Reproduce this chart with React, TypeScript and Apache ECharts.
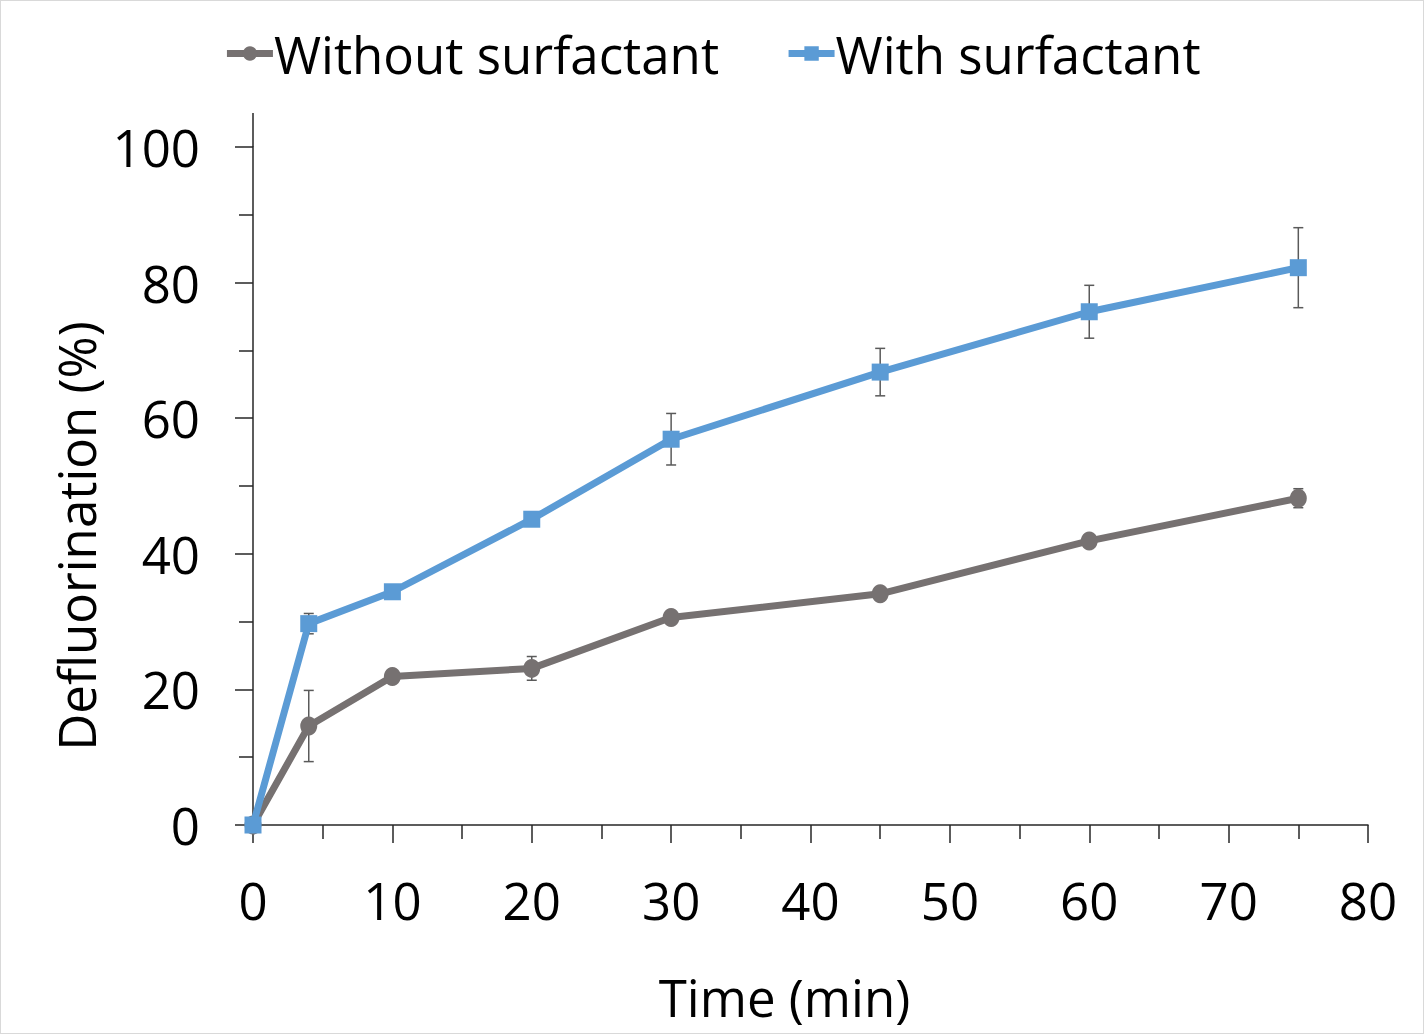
import React, { useEffect, useRef } from "react";
import * as echarts from "echarts";

const timeMin = [0, 4, 10, 20, 30, 45, 60, 75];
const withoutSurf = [0, 14.6, 21.9, 23.1, 30.6, 34.1, 41.9, 48.2];
const withoutErr = [0, 5.25, 0.8, 1.75, 0.6, 0.6, 0.6, 1.4];
const withSurf = [0, 29.7, 34.4, 45.1, 56.9, 66.8, 75.7, 82.2];
const withErr = [0, 1.5, 0.8, 0.8, 3.8, 3.5, 3.9, 5.9];
const seriesNames = ["Without surfactant", "With surfactant"];
const xTicks = { min: 0, max: 80, interval: 10 };
const yTicks = { min: 0, max: 100, interval: 20, axisTop: 105 };

const FONT = "'Open Sans', 'Noto Sans', sans-serif";
const GRAY = "#767171";
const BLUE = "#5B9BD5";
const AXIS = "#262626";

function errData(xs: number[], ys: number[], es: number[]) {
  return xs.map((x, i) => [x, ys[i] - es[i], ys[i] + es[i]]);
}

const errRender = (params: any, api: any) => {
  const x = api.value(0);
  const lo = api.coord([x, api.value(1)]);
  const hi = api.coord([x, api.value(2)]);
  const cap = 5;
  const style = { stroke: "#5a5a5a", lineWidth: 1.5, fill: "none" };
  return {
    type: "group",
    children: [
      { type: "line", shape: { x1: lo[0], y1: lo[1], x2: hi[0], y2: hi[1] }, style },
      { type: "line", shape: { x1: lo[0] - cap, y1: lo[1], x2: lo[0] + cap, y2: lo[1] }, style },
      { type: "line", shape: { x1: hi[0] - cap, y1: hi[1], x2: hi[0] + cap, y2: hi[1] }, style },
    ],
  };
};

export default function App() {
  const ref = useRef<HTMLDivElement>(null);
  useEffect(() => {
    if (!ref.current) return;
    const chart = echarts.init(ref.current, undefined, { renderer: "svg" });
    const option: any = {
      animation: false,
      backgroundColor: "#ffffff",
      textStyle: { fontFamily: FONT },
      legend: {
        top: 22,
        left: "center",
        itemWidth: 46,
        itemHeight: 18,
        itemGap: 66,
        lineStyle: { width: 7 },
        textStyle: { fontSize: 51, color: "#000", fontFamily: FONT, padding: [0, 0, 0, -4] },
        data: seriesNames,
      },
      grid: { left: 252, right: 55, top: 146, bottom: 208, containLabel: false },
      xAxis: {
        type: "value",
        min: xTicks.min,
        max: xTicks.max,
        interval: xTicks.interval,
        name: "Time (min)",
        nameLocation: "middle",
        nameGap: 146,
        nameTextStyle: { fontSize: 51, color: "#000", fontFamily: FONT, padding: [0, 52, 0, 0] },
        axisLine: { onZero: false, lineStyle: { color: AXIS, width: 1.5 } },
        axisTick: { show: true, length: 18, lineStyle: { color: AXIS, width: 1.5 } },
        minorTick: { show: true, splitNumber: 2, length: 14, lineStyle: { color: AXIS, width: 1.5 } },
        axisLabel: { fontSize: 51, color: "#000", margin: 49, fontFamily: FONT },
        splitLine: { show: false },
      },
      yAxis: {
        type: "value",
        min: yTicks.min,
        max: yTicks.max,
        interval: yTicks.interval,
        name: "Defluorination (%)",
        nameLocation: "middle",
        nameGap: 148,
        nameTextStyle: { fontSize: 51, color: "#000", fontFamily: FONT, padding: [0, 100, 0, 0] },
        axisLine: { onZero: false, lineStyle: { color: AXIS, width: 1.5 } },
        axisTick: { show: true, length: 18, lineStyle: { color: AXIS, width: 1.5 } },
        minorTick: { show: true, splitNumber: 2, length: 14, lineStyle: { color: AXIS, width: 1.5 } },
        axisLabel: { fontSize: 51, color: "#000", margin: 53, fontFamily: FONT },
        splitLine: { show: false },
      },
      series: [
        {
          type: "custom",
          renderItem: errRender,
          data: errData(timeMin, withoutSurf, withoutErr),
          encode: { x: 0, y: [1, 2] },
          z: 1,
          silent: true,
        },
        {
          type: "custom",
          renderItem: errRender,
          data: errData(timeMin, withSurf, withErr),
          encode: { x: 0, y: [1, 2] },
          z: 1,
          silent: true,
        },
        {
          name: seriesNames[0],
          type: "line",
          data: timeMin.map((t, i) => [t, withoutSurf[i]]),
          symbol: "circle",
          symbolSize: [17, 19],
          lineStyle: { color: GRAY, width: 7 },
          itemStyle: { color: GRAY },
          z: 3,
        },
        {
          name: seriesNames[1],
          type: "line",
          data: timeMin.map((t, i) => [t, withSurf[i]]),
          symbol: "rect",
          symbolSize: 17,
          lineStyle: { color: BLUE, width: 7 },
          itemStyle: { color: BLUE },
          z: 4,
        },
      ],
    };
    chart.setOption(option);
    const p0 = chart.convertToPixel({ gridIndex: 0 }, [xTicks.min, yTicks.max]) as number[];
    const p1 = chart.convertToPixel({ gridIndex: 0 }, [xTicks.min, yTicks.axisTop]) as number[];
    chart.setOption({
      graphic: [
        {
          type: "line",
          shape: { x1: p0[0], y1: p0[1], x2: p1[0], y2: p1[1] },
          style: { stroke: AXIS, lineWidth: 1.5 },
          z: 10,
        },
      ],
    });
    return () => chart.dispose();
  }, []);
  return (
    <div
      style={{
        position: "fixed",
        left: 0,
        top: 0,
        width: 1424,
        height: 1034,
        boxSizing: "border-box",
        border: "1px solid #d9d9d9",
        background: "#fff",
      }}
    >
      <div ref={ref} style={{ width: 1422, height: 1032 }} />
    </div>
  );
}
